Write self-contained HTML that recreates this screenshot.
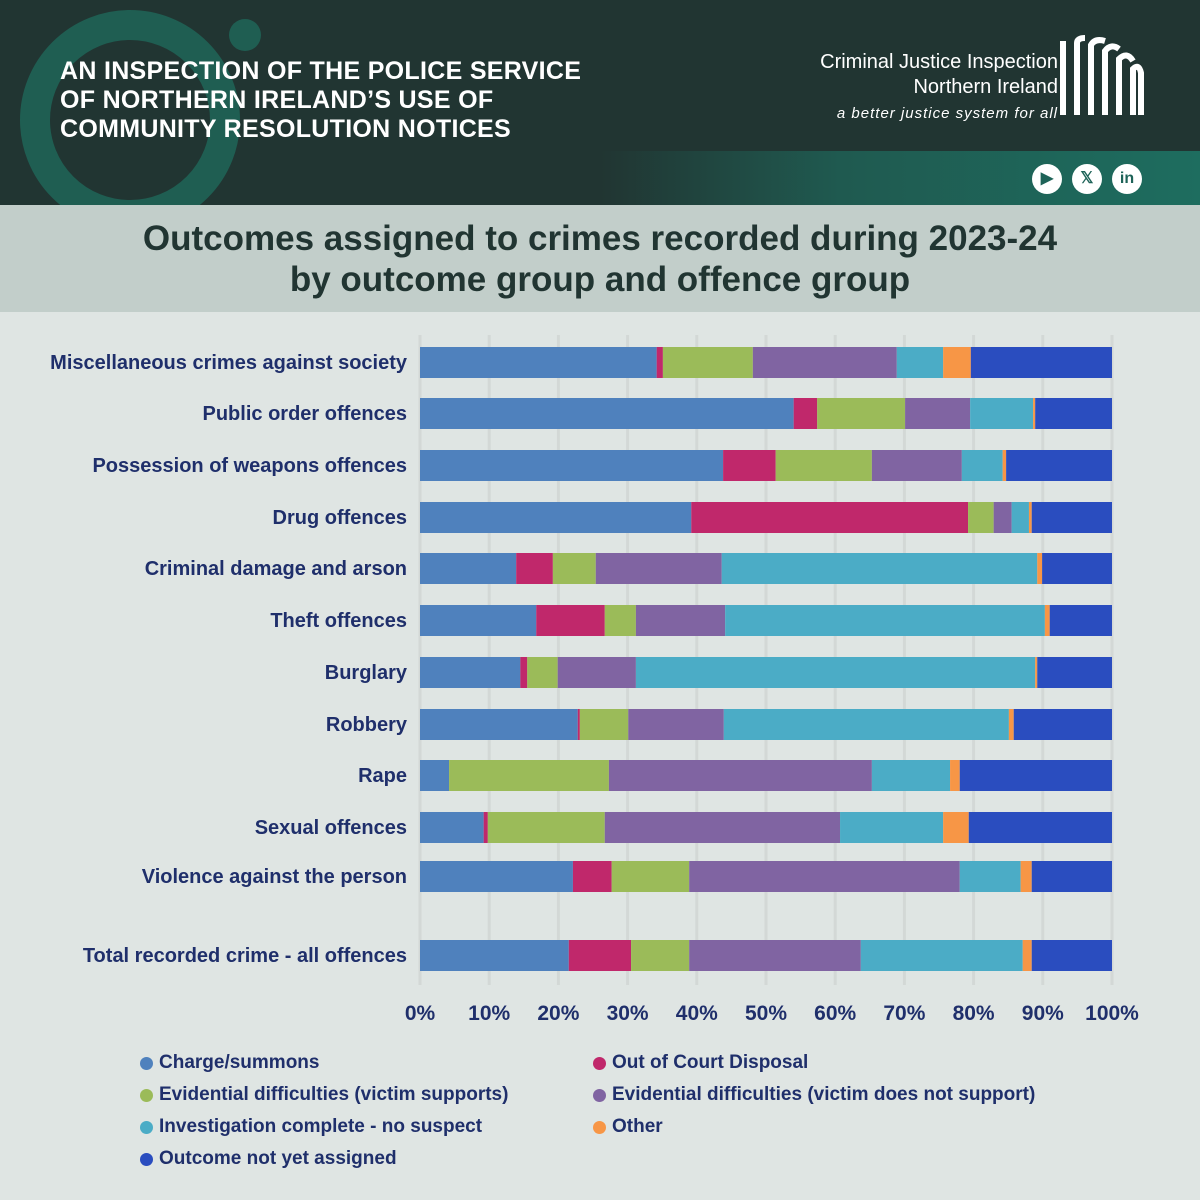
<!DOCTYPE html>
<html><head><meta charset="utf-8">
<style>
html,body{margin:0;padding:0;}
body{width:1200px;height:1200px;overflow:hidden;background:#dfe5e3;font-family:"Liberation Sans",sans-serif;position:relative;}
#header{position:absolute;left:0;top:0;width:1200px;height:205px;background:#213532;overflow:hidden;}
#stripe{position:absolute;left:600px;top:151px;width:600px;height:54px;background:linear-gradient(to right,#213532,#1f5a50 40%,#1e6d5f);}
#htitle{position:absolute;left:60px;top:57px;color:#fff;font-weight:bold;font-size:25px;line-height:29px;letter-spacing:0.3px;}
#org{position:absolute;right:142px;top:50px;color:#fff;font-size:20px;line-height:25px;text-align:right;}
#org i{font-size:15px;letter-spacing:1px;}
#band{position:absolute;left:0;top:205px;width:1200px;height:107px;background:#c2ceca;}
#ctitle{position:absolute;left:0;top:218px;width:1200px;text-align:center;color:#213532;font-weight:bold;font-size:35px;line-height:41px;}
.lab{position:absolute;right:793px;font-weight:bold;font-size:20px;color:#1f2f6b;white-space:nowrap;}
.tick{position:absolute;top:1002px;font-weight:bold;font-size:21px;color:#1f2f6b;transform:translateX(-50%);}
.leg{position:absolute;font-weight:bold;font-size:19px;color:#1f2f6b;white-space:nowrap;}
.dot{position:absolute;width:13px;height:13px;border-radius:50%;}
.icon{position:absolute;top:164px;width:30px;height:30px;border-radius:50%;background:#fff;color:#1e6358;font-weight:bold;font-size:16px;text-align:center;line-height:30px;}
</style></head><body>
<div id="header">
  <svg width="320" height="205" style="position:absolute;left:0;top:0">
    <circle cx="130" cy="120" r="95" fill="none" stroke="#1f5e52" stroke-width="30"/>
    <circle cx="245" cy="35" r="16" fill="#1f5e52"/>
  </svg>
  <div id="stripe"></div>
  <div id="htitle">AN INSPECTION OF THE POLICE SERVICE<br>OF NORTHERN IRELAND’S USE OF<br>COMMUNITY RESOLUTION NOTICES</div>
  <div id="org">Criminal Justice Inspection<br>Northern Ireland<br><i>a better justice system for all</i></div>
  <svg width="90" height="85" style="position:absolute;left:1055px;top:33px">
    <g fill="none" stroke="#fff" stroke-width="6">
      <path d="M8 82 V8"/><path d="M22 82 V10 Q22 5 30 5"/><path d="M36 82 V12 Q40 5 50 8"/><path d="M50 82 V18 Q56 10 64 16"/><path d="M64 82 V26 Q72 18 78 28"/><path d="M78 82 V36 Q84 30 86 40 V82"/>
    </g>
  </svg>
  <div class="icon" style="left:1032px">▶</div>
  <div class="icon" style="left:1072px">𝕏</div>
  <div class="icon" style="left:1112px">in</div>
</div>
<div id="band"></div>
<div id="ctitle">Outcomes assigned to crimes recorded during 2023-24<br>by outcome group and offence group</div>
<svg id="chart" width="1200" height="1200" style="position:absolute;left:0;top:0"></svg>
<script>
const categories=["Miscellaneous crimes against society","Public order offences","Possession of weapons offences","Drug offences","Criminal damage and arson","Theft offences","Burglary","Robbery","Rape","Sexual offences","Violence against the person","Total recorded crime - all offences"];
const seriesNames=["Charge/summons","Out of Court Disposal","Evidential difficulties (victim supports)","Evidential difficulties (victim does not support)","Investigation complete - no suspect","Other","Outcome not yet assigned"];
const charge=[34.2,54.0,43.8,39.2,13.9,16.8,14.5,22.8,4.2,9.2,22.1,21.5];
const ocd=[0.9,3.4,7.6,40.0,5.3,9.9,1.0,0.3,0.0,0.6,5.6,9.0];
const evSupports=[13.0,12.7,13.9,3.7,6.2,4.5,4.4,7.0,23.1,16.9,11.2,8.4];
const evNotSupport=[20.8,9.4,13.0,2.6,18.2,12.9,11.3,13.8,38.0,34.0,39.1,24.8];
const noSuspect=[6.7,9.1,5.9,2.5,45.6,46.2,57.7,41.2,11.3,14.9,8.8,23.4];
const other=[4.0,0.3,0.5,0.4,0.7,0.7,0.3,0.7,1.4,3.7,1.6,1.3];
const notYet=[20.4,11.1,15.3,11.6,10.1,9.0,10.8,14.2,22.0,20.7,11.6,11.6];
const tickLabels=["0%","10%","20%","30%","40%","50%","60%","70%","80%","90%","100%"];
const tickValues=[0,10,20,30,40,50,60,70,80,90,100];

const colors=["#4f81bd","#c0286b","#9bbb59","#8064a2","#4bacc6","#f79646","#2a4dbf"];
const series=[charge,ocd,evSupports,evNotSupport,noSuspect,other,notYet];
const rowY=[347,398,450,502,553,605,657,709,760,812,861,940];
const barH=31;
const x0=420,x1=1112;
function xs(v){return x0+(x1-x0)*v/100;}
const NS="http://www.w3.org/2000/svg";
const svg=document.getElementById('chart');
tickValues.forEach((t,i)=>{
  const l=document.createElementNS(NS,'line');
  l.setAttribute('x1',xs(t));l.setAttribute('x2',xs(t));l.setAttribute('y1',335);l.setAttribute('y2',985);
  l.setAttribute('stroke','#d3d8d6');l.setAttribute('stroke-width','3');
  
  
  svg.appendChild(l);
  const d=document.createElement('div');d.className='tick';d.style.left=xs(t)+'px';d.textContent=tickLabels[i];
  
  
  document.body.appendChild(d);
});
categories.forEach((c,i)=>{
  let cum=0;
  series.forEach((s,k)=>{
    const v=s[i];
    const r=document.createElementNS(NS,'rect');
    r.setAttribute('x',xs(cum));r.setAttribute('width',Math.max(0,xs(cum+v)-xs(cum)));
    r.setAttribute('y',rowY[i]);r.setAttribute('height',barH);r.setAttribute('fill',colors[k]);
    
    
    svg.appendChild(r);
    cum+=v;
  });
  const d=document.createElement('div');d.className='lab';d.style.top=(rowY[i]+5)+'px';d.textContent=c;
  
  
  document.body.appendChild(d);
});
const legPos=[[140,1052],[593,1052],[140,1084],[593,1084],[140,1116],[593,1116],[140,1148]];
seriesNames.forEach((n,k)=>{
  const dot=document.createElement('div');dot.className='dot';dot.style.left=legPos[k][0]+'px';dot.style.top=(legPos[k][1]+5)+'px';dot.style.background=colors[k];
  
  
  document.body.appendChild(dot);
  const t=document.createElement('div');t.className='leg';t.style.left=(legPos[k][0]+19)+'px';t.style.top=legPos[k][1]+'px';t.textContent=n;
  
  
  document.body.appendChild(t);
});
</script>
</body></html>
